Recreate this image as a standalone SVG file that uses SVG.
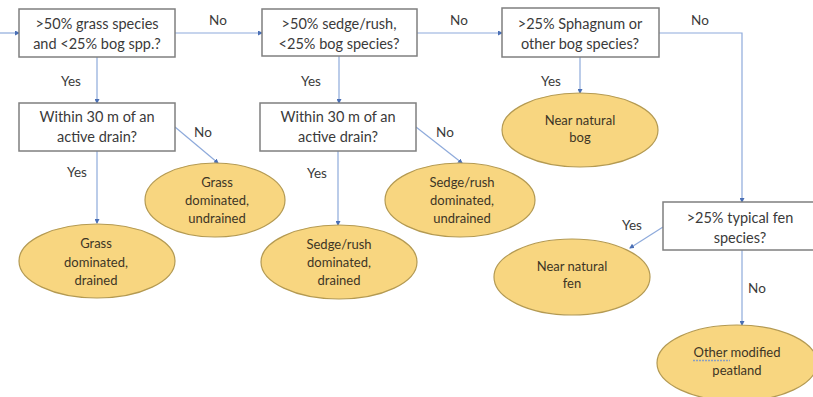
<svg xmlns="http://www.w3.org/2000/svg" width="813" height="397" viewBox="0 0 813 397">
<defs>
<marker id="ah" markerWidth="5" markerHeight="5" refX="4" refY="2.5" orient="auto" markerUnits="userSpaceOnUse">
<path d="M0,0 L5,2.5 L0,5 Z" fill="#4a6fb5"/>
</marker>
</defs>
<style>
.box{fill:#ffffff;stroke:#7f7f7f;stroke-width:1.5}
.ell{fill:#f8d680;stroke:#b49a52;stroke-width:1.2}
.bt{font-family:Lato,"Liberation Sans",sans-serif;font-size:14.5px;fill:#3a3a3a;text-anchor:middle}
.et{font-family:Lato,"Liberation Sans",sans-serif;font-size:13px;fill:#3d3525;text-anchor:middle}
.lb{font-family:Lato,"Liberation Sans",sans-serif;font-size:13.5px;fill:#3a3a3a;text-anchor:middle}
.c{fill:none;stroke:#8eaadb;stroke-width:1.2;marker-end:url(#ah)}
</style>
<rect width="813" height="397" fill="#ffffff"/>
<g id="connectors">
<path class="c" d="M0,33 L19,33"/>
<path class="c" d="M175,33 L262,33"/>
<path class="c" d="M417,33 L502,33"/>
<path class="c" d="M659,33 L742,33 L742,202"/>
<path class="c" d="M97,57 L97,103"/>
<path class="c" d="M339,56 L339,103"/>
<path class="c" d="M580,57 L580,93"/>
<path class="c" d="M97,151 L97,223"/>
<path class="c" d="M175,127 L218,163"/>
<path class="c" d="M338,151 L338,225"/>
<path class="c" d="M416,127 L462,163"/>
<path class="c" d="M663,227 L630,248"/>
<path class="c" d="M742,250 L742,325"/>
<text class="lb" x="218" y="25">No</text>
<text class="lb" x="459" y="25">No</text>
<text class="lb" x="700" y="25">No</text>
<text class="lb" x="71" y="86">Yes</text>
<text class="lb" x="311" y="86">Yes</text>
<text class="lb" x="551" y="86">Yes</text>
<text class="lb" x="77" y="177">Yes</text>
<text class="lb" x="203" y="137">No</text>
<text class="lb" x="317" y="178">Yes</text>
<text class="lb" x="445" y="137">No</text>
<text class="lb" x="632" y="230">Yes</text>
<text class="lb" x="757" y="293">No</text>
</g>
<g id="q1"><rect class="box" x="19" y="9" width="156" height="48"/>
<text class="bt" x="97" y="29">&gt;50% grass species</text><text class="bt" x="97" y="49">and &lt;25% bog spp.?</text></g>
<g id="q2"><rect class="box" x="262" y="9" width="155" height="47"/>
<text class="bt" x="339" y="29">&gt;50% sedge/rush,</text><text class="bt" x="339" y="49">&lt;25% bog species?</text></g>
<g id="q3"><rect class="box" x="502" y="8" width="157" height="49"/>
<text class="bt" x="580" y="29">&gt;25% Sphagnum or</text><text class="bt" x="580" y="49">other bog species?</text></g>
<g id="q4"><rect class="box" x="19" y="103" width="156" height="48"/>
<text class="bt" x="97" y="122">Within 30 m of an</text><text class="bt" x="97" y="142">active drain?</text></g>
<g id="q5"><rect class="box" x="260" y="103" width="156" height="48"/>
<text class="bt" x="338" y="122">Within 30 m of an</text><text class="bt" x="338" y="142">active drain?</text></g>
<g id="q6"><rect class="box" x="663" y="202" width="156" height="48"/>
<text class="bt" x="740" y="223">&gt;25% typical fen</text><text class="bt" x="740" y="243">species?</text></g>
<g id="bog"><ellipse class="ell" cx="580" cy="130" rx="78" ry="37"/>
<text class="et" x="580" y="125">Near natural</text><text class="et" x="580" y="142">bog</text></g>
<g id="grass-undrained"><ellipse class="ell" cx="215" cy="200" rx="70" ry="37"/>
<text class="et" x="217" y="187">Grass</text><text class="et" x="217" y="205">dominated,</text><text class="et" x="217" y="223">undrained</text></g>
<g id="grass-drained"><ellipse class="ell" cx="97" cy="261" rx="78" ry="37"/>
<text class="et" x="96" y="248">Grass</text><text class="et" x="96" y="267">dominated,</text><text class="et" x="96" y="285">drained</text></g>
<g id="sedge-undrained"><ellipse class="ell" cx="460" cy="200" rx="75" ry="37"/>
<text class="et" x="462" y="187">Sedge/rush</text><text class="et" x="462" y="205">dominated,</text><text class="et" x="462" y="223">undrained</text></g>
<g id="sedge-drained"><ellipse class="ell" cx="339" cy="262" rx="78" ry="37"/>
<text class="et" x="339" y="249">Sedge/rush</text><text class="et" x="339" y="267">dominated,</text><text class="et" x="339" y="285">drained</text></g>
<g id="fen"><ellipse class="ell" cx="572" cy="277" rx="78" ry="38"/>
<text class="et" x="572" y="271">Near natural</text><text class="et" x="572" y="288">fen</text></g>
<g id="other"><ellipse class="ell" cx="737" cy="363" rx="80" ry="38"/>
<text class="et" x="737" y="357">Other modified</text><text class="et" x="737" y="375">peatland</text>
<path d="M693,360.5 L730,360.5" stroke="#8a9fc0" stroke-width="1.5" stroke-dasharray="2,1" fill="none"/></g>
</svg>
